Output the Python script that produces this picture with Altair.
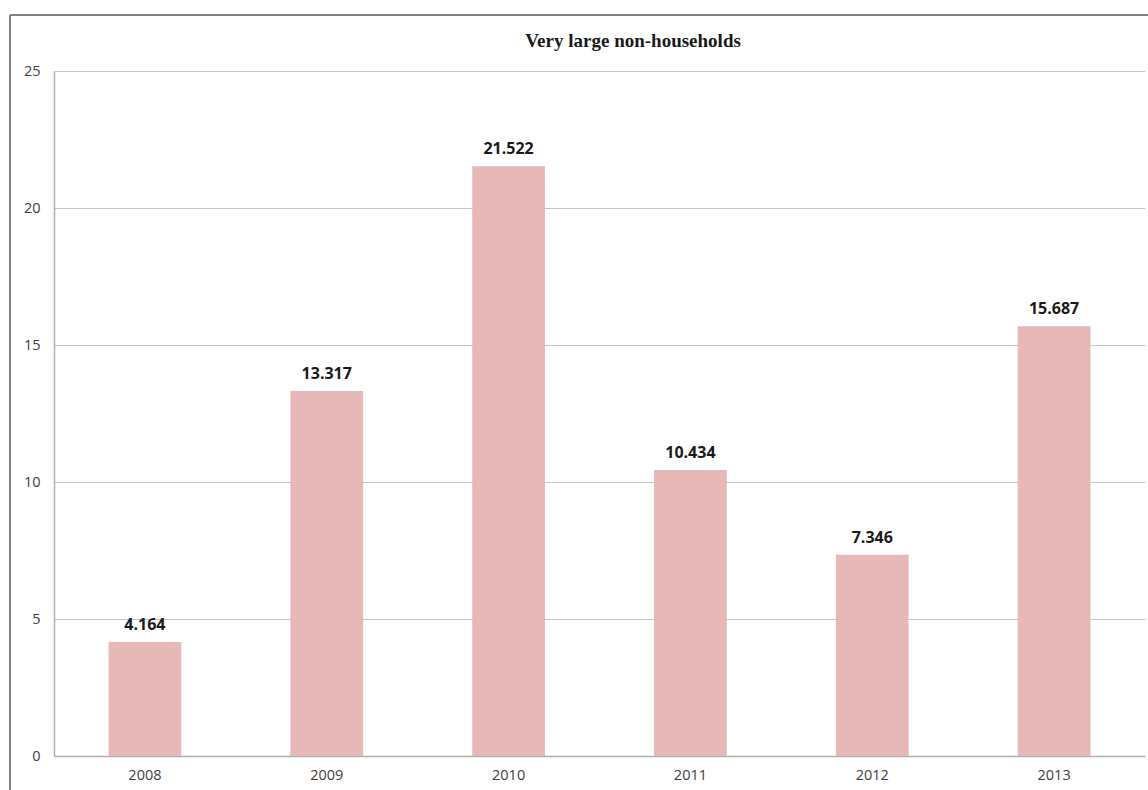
import altair as alt
import pandas as pd

years = ["2008", "2009", "2010", "2011", "2012", "2013"]
values = [4.164, 13.317, 21.522, 10.434, 7.346, 15.687]
labels = ["4.164", "13.317", "21.522", "10.434", "7.346", "15.687"]
title_text = "Very large non-households"

df = pd.DataFrame({"year": years, "value": values, "label": labels})

W, H = 1091, 685

x = alt.X("year:N", sort=years, title=None,
          scale=alt.Scale(paddingInner=0.6, paddingOuter=0.3),
          axis=alt.Axis(labelAngle=0, labelFont="Open Sans", labelFontSize=14.5,
                        labelColor="#404040", labelPadding=12, ticks=False,
                        domainColor="#b0b0b0", domainWidth=1.5, grid=False))
y = alt.Y("value:Q", title=None,
          scale=alt.Scale(domain=[0, 25], nice=False),
          axis=alt.Axis(values=[0, 5, 10, 15, 20, 25], labelFont="Open Sans",
                        labelFontSize=14.5, labelColor="#404040", labelPadding=14,
                        ticks=False, domainColor="#b0b0b0", domainWidth=1.5,
                        gridColor="#c4c4c4", gridWidth=1))

bars = alt.Chart(df).mark_bar(color="#E6B8B7").encode(x=x, y=y)
text = alt.Chart(df).mark_text(dy=-12, baseline="alphabetic", font="Open Sans",
                               fontSize=16, fontWeight="bold", color="#1a1a1a").encode(
    x=alt.X("year:N", sort=years), y="value:Q", text="label:N")

frame_df = pd.DataFrame({"t": [title_text]})
left = alt.Chart(frame_df).mark_rule(color="#808080", strokeWidth=2).encode(
    x=alt.value(-44), y=alt.value(-56), y2=alt.value(740))
top = alt.Chart(frame_df).mark_rule(color="#808080", strokeWidth=2).encode(
    x=alt.value(-44), x2=alt.value(1120), y=alt.value(-56))
title = alt.Chart(frame_df).mark_text(font="Liberation Serif", fontSize=19,
                                      fontWeight="bold", color="#1a1a1a",
                                      baseline="alphabetic").encode(
    x=alt.value(579), y=alt.value(-24), text="t:N")

chart = alt.layer(bars, text, left, top, title).properties(
    width=W, height=H,
    autosize=alt.AutoSizeParams(type="none"),
    padding={"left": 54, "top": 71, "right": 3, "bottom": 34},
).configure_view(stroke=None)

chart.save("out.html", embed_options={"renderer": "svg", "actions": False})
